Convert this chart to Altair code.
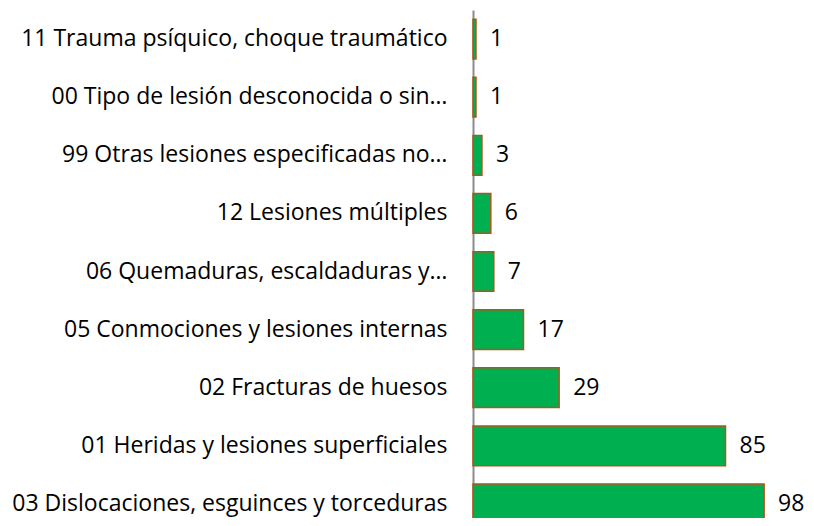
import altair as alt
import pandas as pd

categories = [
    "11 Trauma psíquico, choque traumático",
    "00 Tipo de lesión desconocida o sin…",
    "99 Otras lesiones especificadas no…",
    "12 Lesiones múltiples",
    "06 Quemaduras, escaldaduras y…",
    "05 Conmociones y lesiones internas",
    "02 Fracturas de huesos",
    "01 Heridas y lesiones superficiales",
    "03 Dislocaciones, esguinces y torceduras",
]
values = [1, 1, 3, 6, 7, 17, 29, 85, 98]

df = pd.DataFrame({"cat": categories, "val": values})

FONT = "Open Sans"
FS = 23

y = alt.Y("cat:N", sort=None, title=None,
          scale=alt.Scale(paddingInner=0.316, paddingOuter=0.158, range=[0, 523]),
          axis=alt.Axis(ticks=False, domainColor="#8c8c8c", domainWidth=2,
                        labelFont=FONT, labelFontSize=FS, labelColor="#000000",
                        labelPadding=26, labelLimit=600))
x = alt.X("val:Q", title=None, scale=alt.Scale(domain=[0, 112.1], nice=False),
          axis=None)

bars = alt.Chart(df).mark_bar(color="#00B050", stroke="#B0541A", strokeWidth=1.5).encode(y=y, x=x)
text = alt.Chart(df).mark_text(align="left", baseline="middle", dx=14,
                               font=FONT, fontSize=FS, color="#000000").encode(
    y=alt.Y("cat:N", sort=None), x="val:Q", text="val:Q")

chart = (bars + text).properties(
    width=333, height=508,
    autosize=alt.AutoSizeParams(type="none"),
    padding={"left": 465, "top": 2, "right": 0, "bottom": 0},
).configure_view(stroke=None).configure_axis(grid=False)

chart.save("out.html", embed_options={"renderer": "svg", "actions": False})
